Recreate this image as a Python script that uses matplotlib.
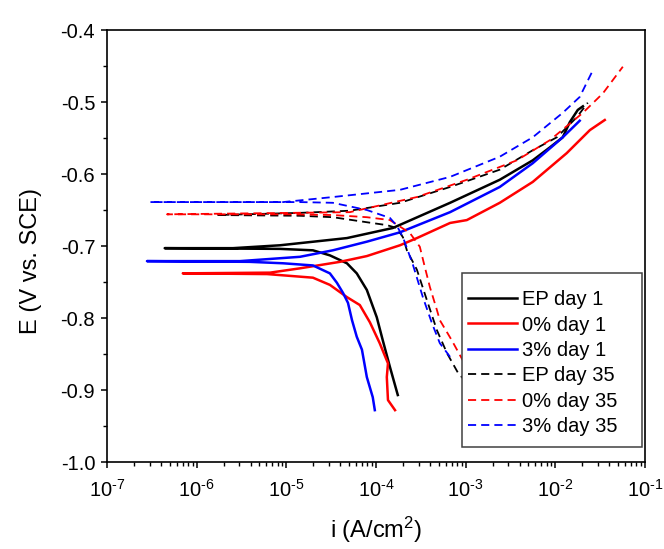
import numpy as np
import matplotlib
matplotlib.use("Agg")
import matplotlib.pyplot as plt
from matplotlib.patches import Rectangle
from matplotlib.ticker import FixedLocator, LogLocator, MultipleLocator, FormatStrFormatter, NullFormatter, FuncFormatter

# ---------------- data (i in A/cm2, E in V vs SCE) ----------------
# each curve: cathodic end -> corrosion potential (leftmost) -> anodic end
ep_d1_i = [1.75e-4, 1.43e-4, 1.19e-4, 1.02e-4, 7.9e-5, 6.1e-5, 4.74e-5, 3.06e-5, 1.98e-5, 8.5e-6,
           4.4e-7,
           2.54e-6, 8.5e-6, 4.74e-5, 1.54e-4, 6.7e-4, 2.4e-3, 5.6e-3, 8.7e-3, 1.21e-2, 1.45e-2, 1.78e-2, 2.03e-2]
ep_d1_E = [-0.907, -0.868, -0.831, -0.799, -0.761, -0.738, -0.724, -0.713, -0.706, -0.704,
           -0.703,
           -0.703, -0.699, -0.689, -0.675, -0.640, -0.608, -0.581, -0.563, -0.549, -0.528, -0.511, -0.506]

p0_d1_i = [1.63e-4, 1.36e-4, 1.32e-4, 1.36e-4, 1.10e-4, 8.55e-5, 6.6e-5, 4.74e-5, 3.06e-5, 1.98e-5, 6.1e-6,
           7.0e-7,
           6.6e-6, 1.42e-5, 3.96e-5, 7.9e-5, 1.85e-4, 2.86e-4, 6.7e-4, 1.03e-3, 2.4e-3, 5.6e-3, 1.34e-2, 2.43e-2, 3.56e-2]
p0_d1_E = [-0.928, -0.914, -0.882, -0.863, -0.835, -0.806, -0.782, -0.771, -0.754, -0.744, -0.739,
           -0.738,
           -0.737, -0.731, -0.722, -0.714, -0.699, -0.689, -0.668, -0.664, -0.640, -0.611, -0.571, -0.539, -0.525]

p3_d1_i = [9.7e-5, 9.2e-5, 7.9e-5, 6.97e-5, 6.1e-5, 5.4e-5, 4.87e-5, 4.28e-5, 3.66e-5, 3.06e-5, 1.98e-5, 9.2e-6, 3.9e-6,
           2.79e-7,
           3.04e-6, 1.42e-5, 3.3e-5, 7.9e-5, 1.85e-4, 6.7e-4, 2.4e-3, 5.6e-3, 1.21e-2, 1.87e-2]
p3_d1_E = [-0.928, -0.910, -0.882, -0.844, -0.826, -0.803, -0.779, -0.765, -0.751, -0.738, -0.727, -0.724, -0.722,
           -0.721,
           -0.721, -0.715, -0.706, -0.694, -0.681, -0.653, -0.618, -0.585, -0.549, -0.526]

ep_d35_i = [1.27e-3, 8.2e-4, 6.2e-4, 4.78e-4, 3.69e-4, 2.86e-4, 2.21e-4, 2.0e-4, 1.71e-4, 1.32e-4, 7.9e-5, 3.3e-5, 1.42e-5,
            1.68e-6,
            1.42e-5, 5.1e-5, 1.85e-4, 6.7e-4, 2.4e-3, 5.6e-3, 1.04e-2, 1.74e-2, 2.3e-2]
ep_d35_E = [-0.903, -0.876, -0.849, -0.817, -0.775, -0.733, -0.706, -0.688, -0.675, -0.671, -0.667, -0.660, -0.658,
            -0.657,
            -0.654, -0.651, -0.640, -0.618, -0.594, -0.567, -0.549, -0.521, -0.501]

p0_d35_i = [9.5e-4, 7.0e-4, 5.15e-4, 4.78e-4, 3.99e-4, 3.5e-4, 3.08e-4, 2.39e-4, 1.43e-4, 7.9e-5, 3.3e-5, 1.1e-5,
            4.67e-7,
            1.1e-5, 5.1e-5, 2.86e-4, 1.03e-3, 3.72e-3, 8.7e-3, 2.03e-2, 3.39e-2, 5.66e-2]
p0_d35_E = [-0.861, -0.831, -0.803, -0.789, -0.757, -0.729, -0.701, -0.682, -0.664, -0.660, -0.657, -0.656,
            -0.656,
            -0.654, -0.653, -0.632, -0.608, -0.581, -0.553, -0.515, -0.488, -0.451]

p3_d35_i = [6.7e-4, 5.15e-4, 4.2e-4, 3.33e-4, 2.58e-4, 2.0e-4, 1.71e-4, 1.43e-4, 7.9e-5, 3.3e-5, 1.42e-5,
            3.01e-7,
            9.2e-6, 3.3e-5, 1.85e-4, 6.7e-4, 2.4e-3, 5.6e-3, 1.21e-2, 1.87e-2, 2.62e-2]
p3_d35_E = [-0.854, -0.835, -0.807, -0.771, -0.726, -0.688, -0.672, -0.661, -0.650, -0.640, -0.639,
            -0.639,
            -0.639, -0.632, -0.622, -0.604, -0.576, -0.549, -0.515, -0.493, -0.456]

labels = ["EP day 1", "0% day 1", "3% day 1", "EP day 35", "0% day 35", "3% day 35"]
x_ticks = [1e-7, 1e-6, 1e-5, 1e-4, 1e-3, 1e-2, 1e-1]

# ---------------- style ----------------
plt.rcParams['font.family'] = ['Liberation Sans', 'DejaVu Sans']
plt.rcParams['mathtext.fontset'] = 'custom'
plt.rcParams['mathtext.rm'] = 'Liberation Sans'
plt.rcParams['mathtext.it'] = 'Liberation Sans:italic'
plt.rcParams['mathtext.default'] = 'regular'

fig = plt.figure(figsize=(6.64, 5.49), dpi=100)
ax = fig.add_axes([107 / 664, 1 - 462 / 549, 538 / 664, 432 / 549])

black, red, blue = '#000000', '#FF0000', '#0000FF'
solid_lw = 1.8
dash_lw = 1.3
dash = (0, (4.5, 2.8))

curves = [
    (ep_d1_i, ep_d1_E, black, '-', solid_lw),
    (p0_d1_i, p0_d1_E, red, '-', solid_lw),
    (p3_d1_i, p3_d1_E, blue, '-', solid_lw),
    (ep_d35_i, ep_d35_E, black, dash, dash_lw),
    (p0_d35_i, p0_d35_E, red, dash, dash_lw),
    (p3_d35_i, p3_d35_E, blue, dash, dash_lw),
]
for (ci, ce, col, ls, lw), lab in zip(curves, labels):
    ax.plot(ci, ce, color=col, linestyle=ls, linewidth=lw, label=lab)

ax.set_xscale('log')
ax.set_xlim(1e-7, 1e-1)
ax.set_ylim(-1.0, -0.4)
ax.xaxis.set_major_locator(FixedLocator(x_ticks))
ax.xaxis.set_major_formatter(FuncFormatter(
    lambda v, pos: r'$\mathdefault{10^{\text{-}%d}}$' % int(round(-np.log10(v)))))
ax.xaxis.set_minor_locator(LogLocator(base=10, subs=np.arange(2, 10), numticks=20))
ax.xaxis.set_minor_formatter(NullFormatter())
ax.yaxis.set_major_locator(MultipleLocator(0.1))
ax.yaxis.set_minor_locator(MultipleLocator(0.05))
ax.yaxis.set_major_formatter(FormatStrFormatter('%.1f'))

for s in ax.spines.values():
    s.set_linewidth(1.2)
ax.tick_params(which='major', direction='out', length=4.5, width=1.1, labelsize=14.5, pad=4)
ax.tick_params(axis='x', which='major', labelsize=14.5, pad=8)
ax.tick_params(which='minor', direction='out', length=2.6, width=1.0)
ax.tick_params(top=False, right=False, which='both')

ax.set_xlabel('i (A/cm$^2$)', fontsize=17, labelpad=10)
ax.set_ylabel('E (V vs. SCE)', fontsize=17)
ax.yaxis.set_label_coords(-0.12, 0.465)

# legend box (drawn as a patch so its padding matches the reference)
box = Rectangle((0.6599, 0.0347), 0.9944 - 0.6599, 0.4375 - 0.0347, transform=ax.transAxes,
                facecolor='white', edgecolor='#404040', linewidth=1.1, zorder=4)
ax.add_patch(box)
leg = ax.legend(loc='upper left', bbox_to_anchor=(0.6710, 0.398), borderaxespad=0,
                fontsize=14.5, handlelength=2.45, handletextpad=0.25, labelspacing=0.32,
                borderpad=0, frameon=False)
leg.set_zorder(5)

fig.savefig('out.png', dpi=100)
